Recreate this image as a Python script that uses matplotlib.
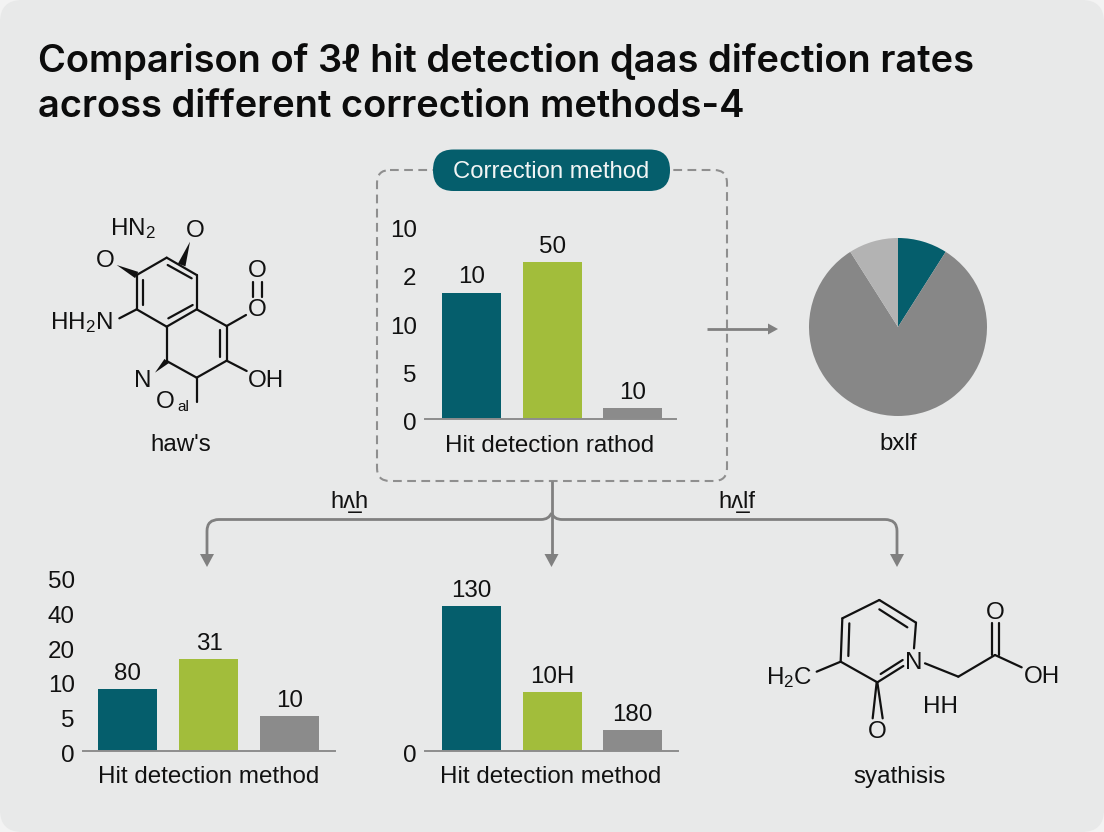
import matplotlib
matplotlib.use("Agg")
import matplotlib.pyplot as plt
from matplotlib.patches import FancyBboxPatch, Polygon, PathPatch
from matplotlib.path import Path
from matplotlib.transforms import ScaledTranslation

plt.rcParams["mathtext.fontset"] = "custom"
plt.rcParams["mathtext.rm"] = "Liberation Sans"
plt.rcParams["mathtext.default"] = "rm"

W, H = 1104, 832
BG = "#e8e9e9"; TEAL = "#055e6c"; GREEN = "#a2bd3b"; GRAY = "#8b8b8b"; PIEG = "#878787"; PIEL = "#b3b3b3"
INK = "#111111"; LINE = "#808080"
SANS = ["Liberation Sans", "DejaVu Sans"]
FS = 17.4

title_lines = ["Comparison of 3\u2113 hit detection \u0256aas difection rates",
               "across different correction methods-4"]

top_ticks = ["0", "5", "10", "2", "10"]
top_values = [2.63, 3.27, 0.23]
top_labels = ["10", "50", "10"]
top_xlabel = "Hit detection rathod"

left_ticks = ["0", "5", "10", "20", "40", "50"]
left_values = [1.79, 2.65, 1.01]
left_labels = ["80", "31", "10"]
left_xlabel = "Hit detection method"

mid_ticks = ["0"]
mid_values = [145, 59, 21]
mid_labels = ["130", "10H", "180"]
mid_xlabel = "Hit detection method"

pie_values = [9.0, 82.0, 9.0]
pie_colors = [TEAL, PIEG, PIEL]

bar_colors = [TEAL, GREEN, GRAY]

fig = plt.figure(figsize=(W / 100, H / 100), dpi=100, facecolor="#f3f3f3")
bgax = fig.add_axes([0, 0, 1, 1], zorder=0)
bgax.set_xlim(0, W); bgax.set_ylim(H, 0); bgax.axis("off")
bgax.add_patch(FancyBboxPatch((0, 0), W, H, boxstyle="round,pad=0,rounding_size=22",
                              fc=BG, ec="none"))

def T(x, y, s, size=FS, color=INK, ha="center", weight="normal", family=SANS, ax=bgax, va="center"):
    return ax.text(x, y, s, fontsize=size, color=color, ha=ha, va=va, weight=weight, family=family)

# title
for y, line in zip((72, 117), title_lines):
    T(38, y, line, size=27.4, ha="left", weight="semibold", va="baseline",
      family=["Inter", "DejaVu Sans"], color="#0c0c0c")

# dashed frame + pill
bgax.add_patch(FancyBboxPatch((377, 170), 350, 311, boxstyle="round,pad=0,rounding_size=13",
                              fc="none", ec="#8f8f8f", lw=1.5, ls=(0, (4.2, 2.6))))
bgax.add_patch(FancyBboxPatch((433, 149.5), 237, 41.5, boxstyle="round,pad=0,rounding_size=20.5",
                              fc=TEAL, ec="none", zorder=3))
T(551, 172, "Correction method", size=17.2, color="#f2f5f5").set_zorder(4)

def bars(box, values, labels, ticks, xlabel, ylim, offs):
    """box: left, right, top, bottom in px of the axes."""
    l, r, t, b = box
    ax = fig.add_axes([l / W, 1 - b / H, (r - l) / W, (b - t) / H], zorder=2)
    ax.patch.set_alpha(0)
    ax.set_xlim(0, r - l)
    ax.set_ylim(*ylim)
    centers = [o + 29.5 for o in offs]
    rects = ax.bar(centers, values, width=59, color=bar_colors, linewidth=0)
    ax.bar_label(rects, labels=labels, padding=3, fontsize=FS, family=SANS, color=INK)
    ax.set_xticks([])
    ax.set_yticks(range(len(ticks)))
    ax.set_yticklabels(ticks, fontsize=FS, family=SANS, color=INK)
    ax.tick_params(axis="y", length=0, pad=6)
    shift = ScaledTranslation(0, -1.6 / 72, fig.dpi_scale_trans)
    for lab in ax.get_yticklabels():
        lab.set_transform(lab.get_transform() + shift)
    for s in ("top", "right", "left"):
        ax.spines[s].set_visible(False)
    ax.spines["bottom"].set_color("#8d8d8d")
    ax.spines["bottom"].set_linewidth(1.4)
    T((l + r) / 2 - 0.5, b + 26, xlabel)
    return ax

bars((425, 676, 200, 419.5), top_values, top_labels, top_ticks, top_xlabel, (0, 219.5 / 48.25), (17, 98, 178))
bars((83, 335, 560, 751), left_values, left_labels, left_ticks, left_xlabel, (0, 191 / 34.7), (15.3, 96.5, 177))
bars((425, 678, 560, 751), mid_values, mid_labels, mid_ticks, mid_xlabel, (0, 191), (17, 98, 178))

# pie
pax = fig.add_axes([(898 - 89) / W, 1 - (327 + 89) / H, 178 / W, 178 / H], zorder=2)
pax.pie(pie_values, colors=pie_colors, startangle=90, counterclock=False, radius=1.0,
        wedgeprops=dict(linewidth=0))
pax.set_xlim(-1, 1); pax.set_ylim(-1, 1)
T(898, 444, "bxlf")

# arrows and connector
def head(x, y, d="down", s=7, L=13):
    if d == "down":
        pts = [(x - s, y - L), (x + s, y - L), (x, y)]
    else:
        pts = [(x - L, y - s), (x - L, y + s), (x, y)]
    bgax.add_patch(Polygon(pts, fc=LINE, ec="none", zorder=3))

def path(verts, codes, lw=2):
    bgax.add_patch(PathPatch(Path(verts, codes), fc="none", ec=LINE, lw=lw, capstyle="butt", zorder=3))

M, L_, C = Path.MOVETO, Path.LINETO, Path.CURVE3
path([(551.5, 481), (551.5, 556)], [M, L_])
path([(207, 556), (207, 531), (207, 519.5), (219, 519.5), (541, 519.5), (549, 519.5), (551.5, 513)],
     [M, L_, C, C, L_, C, C])
path([(897, 556), (897, 531), (897, 519.5), (885, 519.5), (562, 519.5), (554, 519.5), (551.5, 513)],
     [M, L_, C, C, L_, C, C])
for x in (207, 551.5, 897):
    head(x, 567)
path([(707, 329), (770, 329)], [M, L_])
head(778, 329, "right", s=5.5, L=10)
T(349, 502, "h\u028c\u0332h", size=17.0)
T(737, 502, "h\u028c\u0332lf", size=17.0)

# molecule 1 (coordinates measured on a 3x crop)
def seg(lines, ox, oy, lw=1.6):
    for (a, b) in lines:
        bgax.plot([ox + a[0] / 3, ox + b[0] / 3], [oy + a[1] / 3, oy + b[1] / 3], color="#111111", lw=lw,
                  solid_capstyle="round", zorder=3)

def wedge(tip, base, ox, oy, w=6):
    tx, ty = ox + tip[0] / 3, oy + tip[1] / 3
    bx, by = ox + base[0] / 3, oy + base[1] / 3
    dx, dy = bx - tx, by - ty
    n = (dx * dx + dy * dy) ** 0.5
    nx, ny = -dy / n * w / 2, dx / n * w / 2
    bgax.add_patch(Polygon([(tx, ty), (bx + nx, by + ny), (bx - nx, by - ny)], fc="#111111", ec="none", zorder=3))

m1 = [((410, 255), (500, 203)), ((500, 203), (590, 255)), ((590, 255), (590, 358)), ((590, 358), (500, 410)),
      ((500, 410), (410, 358)), ((410, 358), (410, 255)), ((590, 358), (680, 408)), ((680, 408), (680, 512)),
      ((680, 512), (590, 563)), ((590, 563), (500, 513)), ((500, 513), (500, 410)),
      ((430, 270), (430, 345)), ((503, 225), (575, 265)), ((505, 385), (578, 345)), ((660, 420), (660, 500)),
      ((410, 358), (358, 385)), ((680, 408), (738, 375)), ((680, 512), (740, 543)), ((592, 563), (592, 635)),
      ((760, 275), (760, 320)), ((785, 275), (785, 320))]
seg(m1, 0, 190)
wedge((350, 225), (410, 255), 0, 190, 7)
wedge((570, 155), (545, 225), 0, 190, 8)
wedge((465, 548), (500, 513), 0, 190, 6)
for zx, zy, s in [(400, 117, "HN$_2$"), (585, 122, "O"), (316, 212, "O"), (772, 244, "O"), (772, 359, "O"),
                  (245, 398, "HH$_2$N"), (428, 572, "N"), (798, 572, "OH"), (543, 766, "haw's")]:
    T(zx / 3, 190 + zy / 3, s)
T(495 / 3, 190 + 636 / 3, "O")
T(550 / 3, 190 + 652 / 3, "al", size=11)

# molecule 2
m2 = [((272, 245), (277, 115)), ((277, 115), (388, 60)), ((388, 60), (498, 128)), ((498, 128), (492, 205)),
      ((272, 245), (382, 307)), ((382, 307), (460, 258)), ((392, 282), (458, 240)),
      ((298, 130), (295, 228)), ((388, 88), (472, 142)),
      ((380, 307), (368, 415)), ((382, 307), (398, 415)),
      ((272, 245), (200, 275)), ((525, 250), (625, 290)), ((625, 290), (735, 225)), ((735, 225), (815, 262)),
      ((725, 225), (725, 128)), ((748, 225), (748, 128))]
seg(m2, 750, 580)
for zx, zy, s in [(118, 292, "H$_2$C"), (490, 249, "N"), (737, 99, "O"), (875, 292, "OH"), (572, 382, "HH"),
                  (381, 456, "O"), (450, 591, "syathisis")]:
    T(750 + zx / 3, 580 + zy / 3, s)

fig.savefig("out.png", dpi=100, facecolor=fig.get_facecolor())
